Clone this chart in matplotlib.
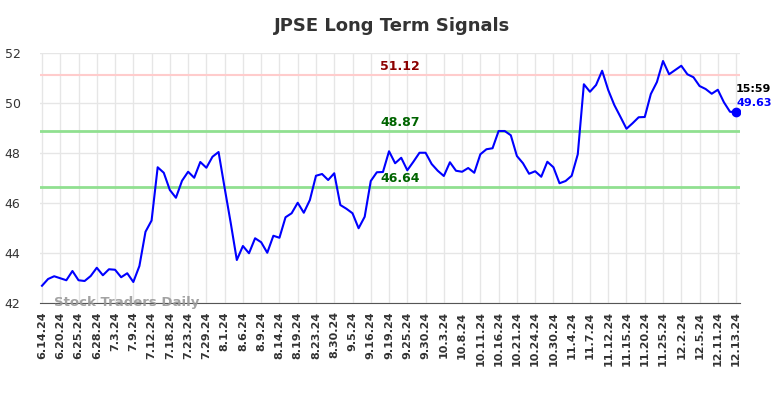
import matplotlib.pyplot as plt
import numpy as np

# chart data
tick_labels = ['6.14.24', '6.20.24', '6.25.24', '6.28.24', '7.3.24', '7.9.24', '7.12.24',
               '7.18.24', '7.23.24', '7.29.24', '8.1.24', '8.6.24', '8.9.24', '8.14.24',
               '8.19.24', '8.23.24', '8.30.24', '9.5.24', '9.16.24', '9.19.24', '9.25.24',
               '9.30.24', '10.3.24', '10.8.24', '10.11.24', '10.16.24', '10.21.24',
               '10.24.24', '10.30.24', '11.4.24', '11.7.24', '11.12.24', '11.15.24',
               '11.20.24', '11.25.24', '12.2.24', '12.5.24', '12.11.24', '12.13.24']

prices = [42.69, 42.96, 43.07, 42.99, 42.91, 43.28, 42.91, 42.88, 43.08, 43.41,
          43.11, 43.35, 43.33, 43.03, 43.19, 42.84, 43.48, 44.85, 45.30, 47.43,
          47.21, 46.52, 46.21, 46.89, 47.25, 47.01, 47.64, 47.41, 47.85, 48.04,
          46.60, 45.20, 43.72, 44.28, 43.99, 44.59, 44.43, 44.01, 44.69, 44.61,
          45.43, 45.59, 46.01, 45.61, 46.12, 47.09, 47.16, 46.92, 47.19, 45.92,
          45.77, 45.59, 44.99, 45.45, 46.88, 47.23, 47.24, 48.07, 47.59, 47.81,
          47.31, 47.65, 48.01, 48.01, 47.56, 47.29, 47.08, 47.63, 47.29, 47.25,
          47.40, 47.21, 47.95, 48.15, 48.19, 48.88, 48.88, 48.71, 47.88, 47.59,
          47.17, 47.27, 47.05, 47.65, 47.43, 46.79, 46.88, 47.09, 47.95, 50.75,
          50.45, 50.72, 51.29, 50.52, 49.92, 49.45, 48.97, 49.19, 49.43, 49.44,
          50.36, 50.84, 51.68, 51.15, 51.32, 51.49, 51.15, 51.03, 50.68, 50.56,
          50.37, 50.53, 50.03, 49.65, 49.63]

upper = 51.12
mid = 48.87
lower = 46.64
last_time = '15:59'

x = np.arange(len(prices))
tick_pos = np.arange(0, len(prices), 3)

fig = plt.figure(figsize=(7.84, 3.98), dpi=100)
ax = fig.add_axes([0.051, 0.2387, 0.893, 0.6281])

ax.set_xlim(-0.33, len(prices) - 1 + 0.66)
ax.set_ylim(42, 52)

ax.grid(True, color='#e6e6e6', linewidth=1)
ax.set_axisbelow(True)

ax.axhline(upper, color='#ffcccc', linewidth=1.5)
ax.axhline(mid, color='#90e090', linewidth=2)
ax.axhline(lower, color='#90e090', linewidth=2)

ax.plot(x, prices, color='blue', linewidth=1.5)
ax.plot(x[-1], prices[-1], 'o', color='blue', markersize=6)

mid_x = 58.8
ax.text(mid_x, upper + 0.1, f'{upper:.2f}', color='#8b0000', fontsize=9,
        fontweight='bold', ha='center', va='bottom')
ax.text(mid_x, mid + 0.1, f'{mid:.2f}', color='#006400', fontsize=9,
        fontweight='bold', ha='center', va='bottom')
ax.text(mid_x, lower + 0.1, f'{lower:.2f}', color='#006400', fontsize=9,
        fontweight='bold', ha='center', va='bottom')

ax.text(x[-1], prices[-1] + 0.92, last_time, color='black', fontsize=8,
        fontweight='bold', ha='left', va='center')
ax.text(x[-1], prices[-1] + 0.36, f'{prices[-1]:.2f}', color='blue', fontsize=8,
        fontweight='bold', ha='left', va='center')

ax.text(2, 42.0, 'Stock Traders Daily', color='#999999', fontsize=9.5,
        fontweight='bold', ha='left', va='center', alpha=0.9)

ax.set_xticks(tick_pos)
ax.set_xticklabels(tick_labels, rotation=90, fontsize=8, fontweight='bold', color='#333333')
ax.set_yticks(np.arange(42, 53, 2))
ax.tick_params(axis='y', labelsize=9, colors='#333333', length=0, pad=14)
ax.tick_params(axis='x', length=0, pad=6)

for s in ['top', 'right', 'left']:
    ax.spines[s].set_visible(False)
ax.spines['bottom'].set_color('#555555')

fig.text(0.5, 0.935, 'JPSE Long Term Signals', ha='center', va='center',
         fontsize=13, fontweight='bold', color='#333333')

fig.savefig('out.png', dpi=100)
